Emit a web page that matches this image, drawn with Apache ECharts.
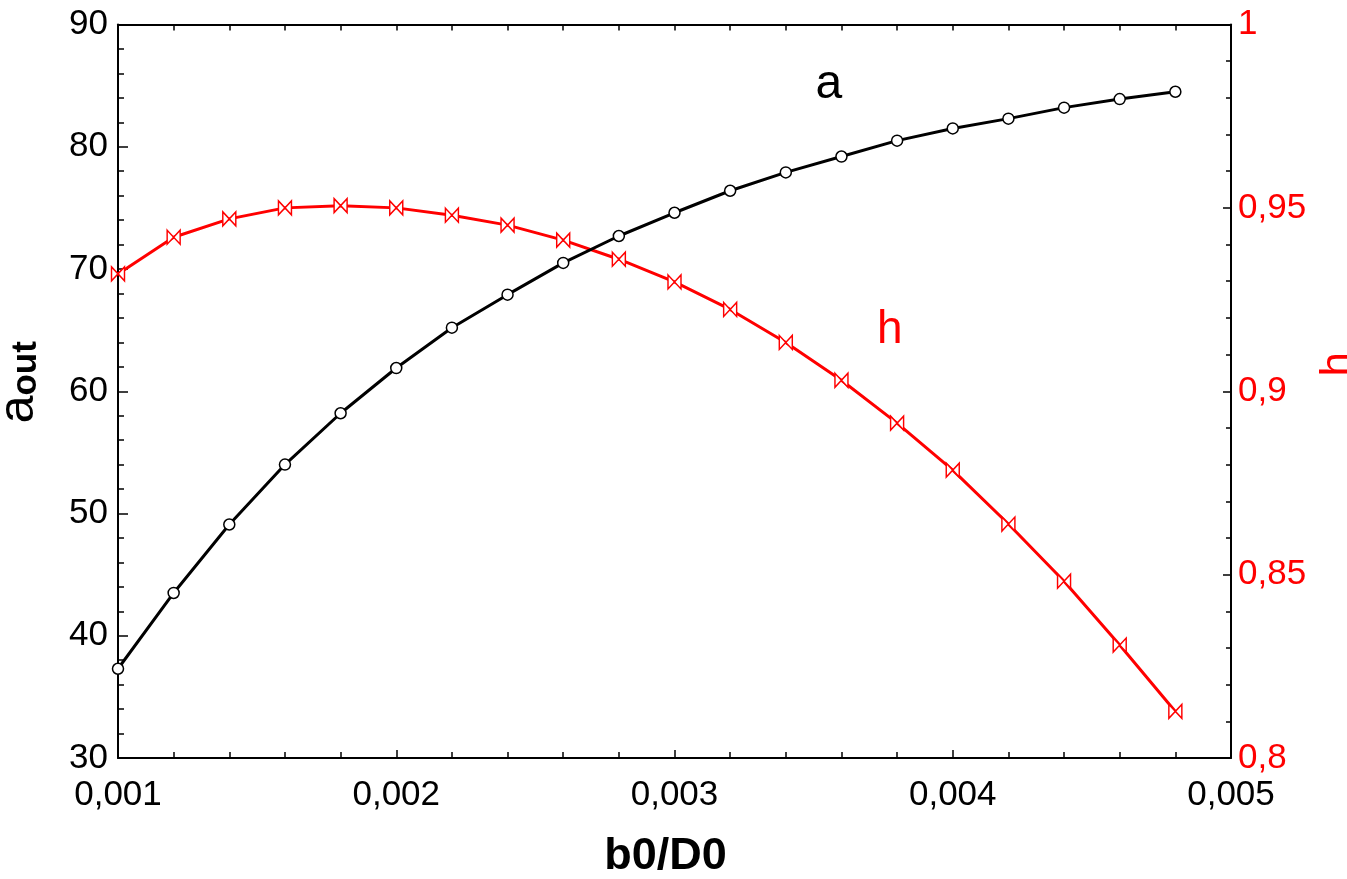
<!DOCTYPE html>
<html>
<head>
<meta charset="utf-8">
<title>a_out and h vs b0/D0</title>
<script src="https://cdn.jsdelivr.net/npm/echarts@6/dist/echarts.min.js"></script>
<style>
  html, body { margin: 0; padding: 0; background: #fff; }
  #chart { width: 1347px; height: 879px; }
</style>
</head>
<body>
<div id="chart"></div>
<script>
// b0/D0 values (x)
const ratio = [0.001, 0.0012, 0.0014, 0.0016, 0.0018, 0.002, 0.0022, 0.0024, 0.0026, 0.0028,
  0.003, 0.0032, 0.0034, 0.0036, 0.0038, 0.004, 0.0042, 0.0044, 0.0046, 0.0048]
// a_out, left axis
const aOut = [37.3, 43.5, 49.1, 54.0, 58.2, 61.9, 65.2, 67.9, 70.5, 72.7,
  74.6, 76.4, 77.9, 79.2, 80.5, 81.5, 82.3, 83.2, 83.9, 84.5]
// h, right axis
const hVal = [0.932, 0.942, 0.947, 0.950, 0.9506, 0.950, 0.948, 0.9453, 0.9412, 0.936,
  0.9298, 0.9223, 0.9133, 0.903, 0.8913, 0.8785, 0.8638, 0.8482, 0.8308, 0.8127]

const FONT = 'Liberation Sans, Arial, sans-serif'
const RED = '#ff0000'
const bowtie = 'path://M0,0L10,10L10,0L0,10Z'

// comma as decimal separator
const fmt = (v, d) => String(parseFloat(v.toFixed(d))).replace('.', ',')

const chart = echarts.init(document.getElementById('chart'))

const tickLine = { color: '#000', width: 1.5 }

const option = {
  animation: false,
  grid: { left: 118, right: 116, top: 24.5, bottom: 121, outerBoundsMode: 'none' },
  xAxis: [
    {
      type: 'value',
      min: 0.001,
      max: 0.005,
      interval: 0.001,
      name: 'b0/D0',
      nameLocation: 'middle',
      nameGap: 76,
      nameTextStyle: { fontFamily: FONT, fontSize: 45, fontWeight: 'bold', color: '#000', padding: [0, 18, 0, 0] },
      axisLine: { onZero: false, lineStyle: { color: '#000', width: 2 } },
      axisTick: { inside: true, length: 8, lineStyle: tickLine },
      minorTick: { show: true, splitNumber: 5, length: 6, lineStyle: tickLine },
      axisLabel: { fontFamily: FONT, fontSize: 35, color: '#000', margin: 20, formatter: (v) => fmt(v, 4) },
      splitLine: { show: false }
    },
    {
      type: 'value',
      position: 'top',
      min: 0.001,
      max: 0.005,
      interval: 0.001,
      axisLine: { onZero: false, lineStyle: { color: '#000', width: 2 } },
      axisTick: { inside: true, length: 6, lineStyle: tickLine },
      minorTick: { show: true, splitNumber: 5, length: 6, lineStyle: tickLine },
      axisLabel: { show: false },
      splitLine: { show: false }
    }
  ],
  yAxis: [
    {
      type: 'value',
      min: 30,
      max: 90,
      interval: 10,
      name: '{a|a}{s|out}',
      nameLocation: 'middle',
      nameRotate: 90,
      nameGap: 74,
      nameTextStyle: {
        color: '#000',
        padding: [0, 0, 0, 18],
        rich: {
          a: { fontFamily: FONT, fontSize: 50, lineHeight: 50, verticalAlign: 'bottom', color: '#000' },
          s: { fontFamily: FONT, fontSize: 35, fontWeight: 'bold', lineHeight: 16, verticalAlign: 'bottom', color: '#000' }
        }
      },
      axisLine: { onZero: false, lineStyle: { color: '#000', width: 2 } },
      axisTick: { inside: true, length: 10, lineStyle: tickLine },
      minorTick: { show: true, splitNumber: 5, length: 6, lineStyle: tickLine },
      axisLabel: { fontFamily: FONT, fontSize: 35, color: '#000', margin: 10 },
      splitLine: { show: false }
    },
    {
      type: 'value',
      position: 'right',
      min: 0.8,
      max: 1,
      interval: 0.05,
      name: 'h',
      nameLocation: 'middle',
      nameRotate: 90,
      nameGap: 76,
      nameTextStyle: { fontFamily: FONT, fontSize: 44, color: RED, padding: [0, 0, 0, 54] },
      axisLine: { onZero: false, lineStyle: { color: '#000', width: 2 } },
      axisTick: { inside: true, length: 8, lineStyle: tickLine },
      minorTick: { show: true, splitNumber: 5, length: 5, lineStyle: tickLine },
      axisLabel: { fontFamily: FONT, fontSize: 35, color: RED, margin: 7, formatter: (v) => fmt(v, 3) },
      splitLine: { show: false }
    }
  ],
  series: [
    {
      name: 'h',
      type: 'line',
      yAxisIndex: 1,
      data: ratio.map((x, i) => [x, hVal[i]]),
      symbol: bowtie,
      symbolSize: [13, 14],
      lineStyle: { color: RED, width: 3 },
      itemStyle: { color: '#fff', borderColor: RED, borderWidth: 1.5 },
      markPoint: {
        symbol: 'circle',
        symbolSize: 0,
        data: [{ coord: [0.003774, 0.9167] }],
        label: { show: true, position: 'inside', formatter: 'h', fontFamily: FONT, fontSize: 46, color: RED }
      },
      z: 3
    },
    {
      name: 'a',
      type: 'line',
      yAxisIndex: 0,
      data: ratio.map((x, i) => [x, aOut[i]]),
      symbol: 'circle',
      symbolSize: 11,
      lineStyle: { color: '#000', width: 3 },
      itemStyle: { color: '#fff', borderColor: '#000', borderWidth: 1.5 },
      markPoint: {
        symbol: 'circle',
        symbolSize: 0,
        data: [{ coord: [0.003555, 85.1] }],
        label: { show: true, position: 'inside', formatter: 'a', fontFamily: FONT, fontSize: 48, color: '#000' }
      },
      z: 4
    }
  ]
}

chart.setOption(option)
</script>
</body>
</html>
